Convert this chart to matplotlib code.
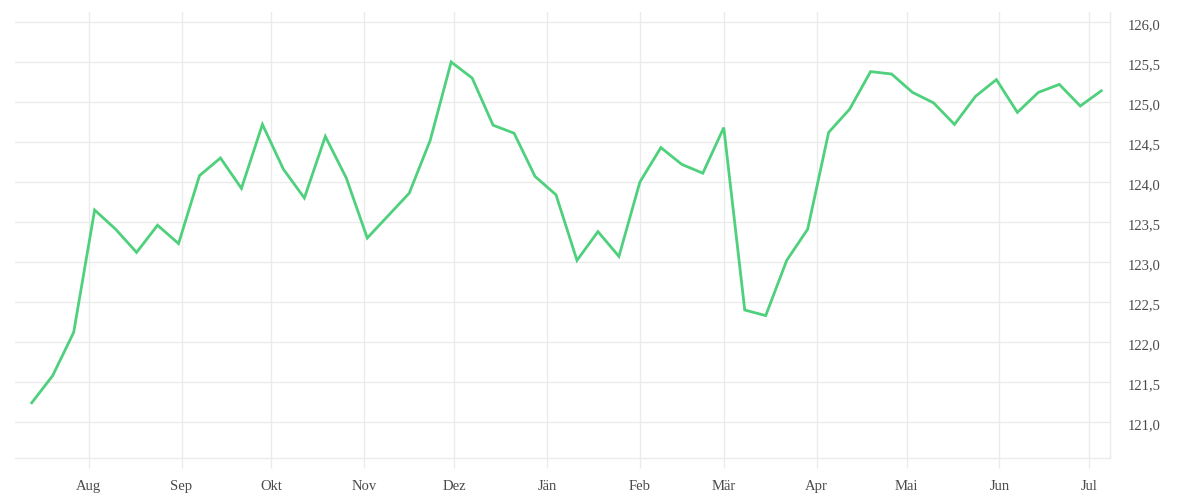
import matplotlib
matplotlib.use("Agg")
import matplotlib.pyplot as plt
import matplotlib.dates as mdates
import matplotlib.ticker as mticker
import matplotlib.transforms as mtransforms
import pandas as pd

# ---- data ----
start_date = "2022-07-13"
values = [121.24, 121.58, 122.12, 123.65, 123.41, 123.12, 123.46, 123.23,
          124.08, 124.30, 123.92, 124.72, 124.16, 123.80, 124.57, 124.05,
          123.30, 123.58, 123.86, 124.52, 125.50, 125.30, 124.71, 124.61,
          124.07, 123.84, 123.02, 123.38, 123.07, 124.00, 124.43, 124.22,
          124.11, 124.68, 122.40, 122.33, 123.02, 123.41, 124.62, 124.91,
          125.38, 125.35, 125.12, 124.99, 124.72, 125.07, 125.28, 124.87,
          125.12, 125.22, 124.95, 125.14]
month_names = ["Jän", "Feb", "Mär", "Apr", "Mai", "Jun",
               "Jul", "Aug", "Sep", "Okt", "Nov", "Dez"]
y_ticks = [121.0, 121.5, 122.0, 122.5, 123.0, 123.5, 124.0, 124.5, 125.0, 125.5, 126.0]

dates = pd.date_range(start_date, periods=len(values), freq="7D")

LINE = "#4ed07c"
GRID = "#ebebeb"
TEXT = "#4a4a4a"
FONT = ["Liberation Serif", "DejaVu Serif"]

fig = plt.figure(figsize=(12, 5), dpi=100)
ax = fig.add_axes([15/1200, 42/500, 1095/1200, 446/500])

ax.plot(dates, values, color=LINE, linewidth=2.0, solid_joinstyle="miter", zorder=3)

ax.set_xlim(pd.Timestamp("2022-07-07 10:00"), pd.Timestamp("2023-07-07 22:00"))
ax.set_ylim(120.55, 126.125)

ax.xaxis.set_major_locator(mdates.MonthLocator())
ax.xaxis.set_major_formatter(
    mticker.FuncFormatter(lambda x, pos: month_names[mdates.num2date(x).month - 1]))

ax.yaxis.tick_right()
ax.set_yticks(y_ticks)
ax.yaxis.set_major_formatter(mticker.FuncFormatter(lambda v, pos: f"{v:.1f}".replace(".", ",")))

ax.grid(True, color=GRID, linewidth=1.0, zorder=0)
ax.set_axisbelow(True)

for s in ["left", "top"]:
    ax.spines[s].set_visible(False)
for s in ["right", "bottom"]:
    ax.spines[s].set_color(GRID)
    ax.spines[s].set_linewidth(1.0)

ax.tick_params(axis="x", length=7.5, width=1.0, color=GRID, pad=8,
               labelsize=10.5, labelcolor=TEXT)
ax.tick_params(axis="y", length=0, pad=12.5, labelsize=10.5, labelcolor=TEXT)
offset = mtransforms.ScaledTranslation(0, -2/100, fig.dpi_scale_trans)
for lab in ax.get_yticklabels():
    lab.set_transform(lab.get_transform() + offset)
for lab in ax.get_xticklabels() + ax.get_yticklabels():
    lab.set_family(FONT)

fig.savefig("out.png", dpi=100, facecolor="white")
